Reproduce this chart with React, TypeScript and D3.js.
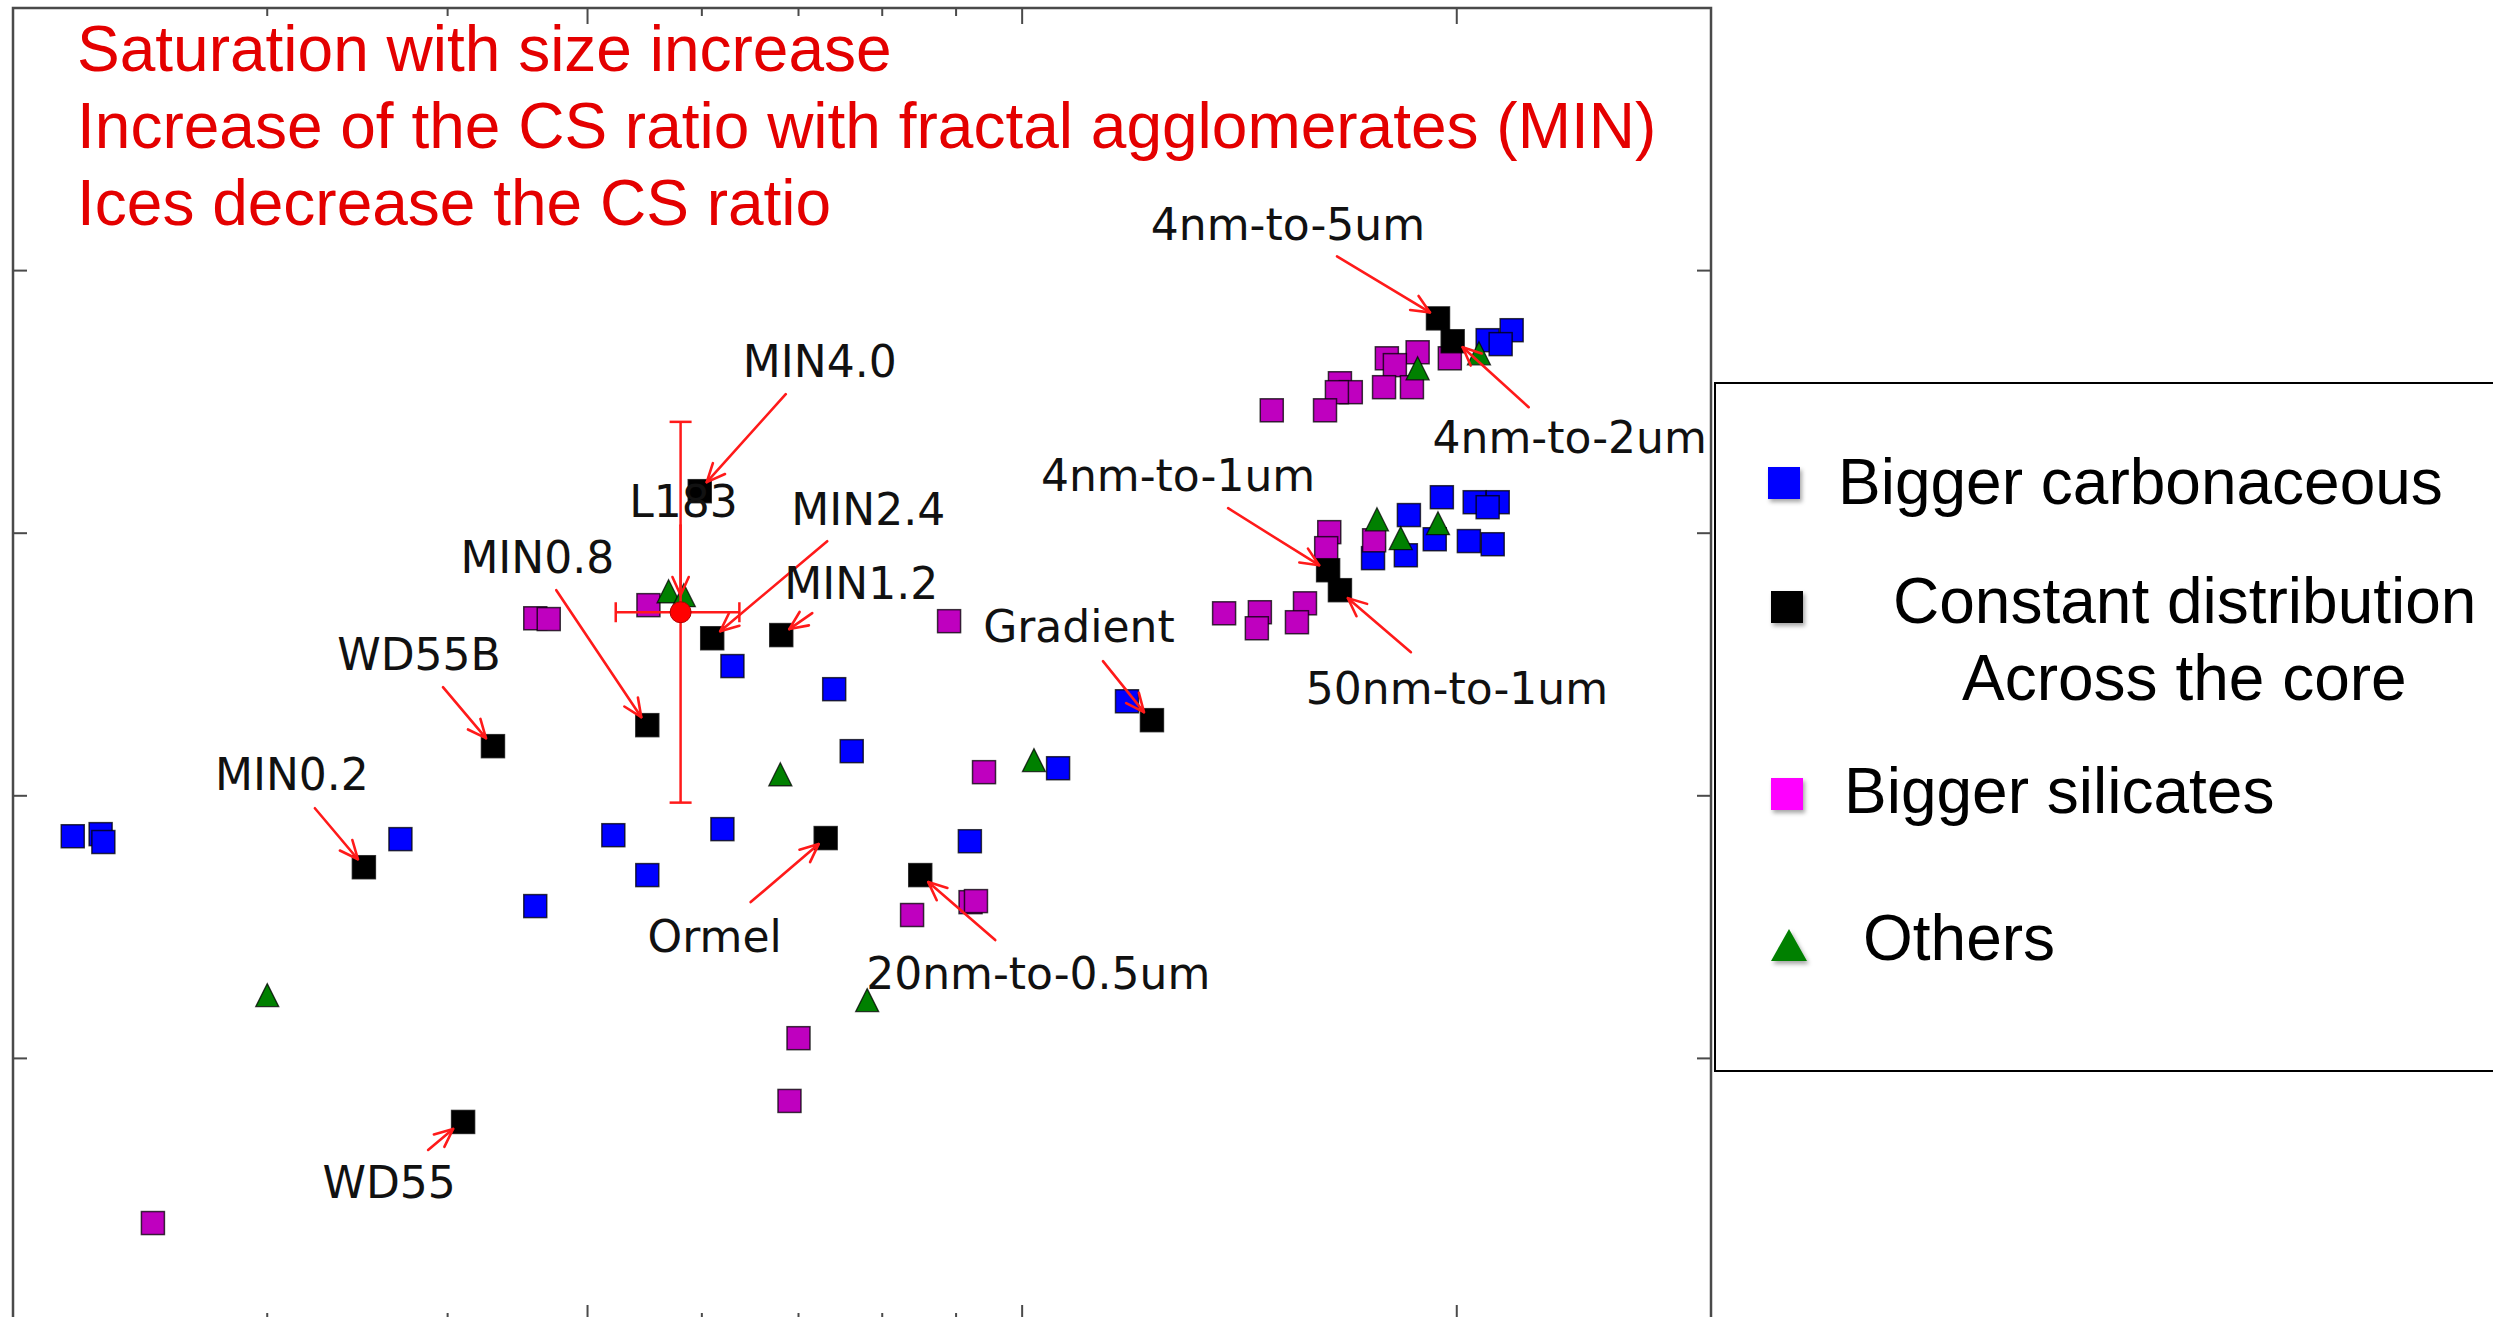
import React from "react";
import * as d3 from "d3";

const W = 2493;
const H = 1317;

// ---------- data (x: log axis, y: linear axis; arbitrary units) ----------
const carbonX = [0.220, 0.230, 0.231, 0.371, 0.460, 0.521, 0.550, 0.630, 0.741, 0.762, 0.620, 0.920, 1.059, 1.182,
  2.101, 2.183, 2.145, 1.953, 2.058, 2.135, 2.101, 1.853, 1.931, 2.039, 2.118, 1.844, 1.750];
const carbonY = [1.846, 1.854, 1.824, 1.835, 1.580, 1.850, 1.698, 2.494, 2.406, 2.170, 1.873, 1.827, 2.105, 2.360,
  3.735, 3.773, 3.720, 3.137, 3.118, 3.118, 3.099, 3.069, 2.977, 2.970, 2.958, 2.916, 2.905];

const silX = [0.250, 0.460, 0.470, 0.551, 0.890, 0.941, 0.921, 0.929, 0.839, 0.700, 0.690,
  1.978, 1.879, 1.789, 1.812, 1.781, 1.862, 1.660, 1.689, 1.652, 1.621, 1.489,
  1.632, 1.753, 1.624, 1.570, 1.380, 1.461, 1.454, 1.550];
const silY = [0.373, 2.676, 2.673, 2.726, 2.665, 2.090, 1.595, 1.599, 1.546, 1.077, 0.838,
  3.666, 3.689, 3.666, 3.640, 3.556, 3.556, 3.571, 3.537, 3.537, 3.468, 3.468,
  3.004, 2.973, 2.943, 2.733, 2.695, 2.699, 2.638, 2.661];

const constNames = ["MIN0.2", "WD55", "WD55B", "MIN0.8", "MIN4.0", "MIN2.4", "MIN1.2", "Ormel",
  "20nm-to-0.5um", "Gradient", "4nm-to-5um", "4nm-to-2um", "4nm-to-1um", "50nm-to-1um"];
const constX = [0.350, 0.410, 0.430, 0.550, 0.598, 0.610, 0.681, 0.731, 0.850, 1.230, 1.941, 1.987, 1.629, 1.660];
const constY = [1.728, 0.758, 2.189, 2.269, 3.160, 2.600, 2.612, 1.839, 1.698, 2.288, 3.818, 3.731, 2.859, 2.783];

const otherX = [0.300, 0.569, 0.583, 0.680, 0.781, 1.019, 2.072, 1.879, 1.761, 1.941, 1.829];
const otherY = [1.241, 2.779, 2.764, 2.082, 1.222, 2.136, 3.685, 3.628, 3.053, 3.038, 2.981];

const l183X = [0.580];
const l183Y = [2.699];
const l183XErr = [0.057];
const l183YErr = [0.725];

const xMajorTicks = [0.5, 1, 2];
const xMinorTicks = [0.3, 0.4, 0.6, 0.7, 0.8, 0.9];
const yTicks = [1, 2, 3, 4];

const notes = [
  "Saturation with size increase",
  "Increase of the CS ratio with fractal agglomerates (MIN)",
  "Ices decrease the CS ratio",
];

const legendLabels = ["Bigger carbonaceous", "Constant distribution", "Across the core", "Bigger silicates", "Others"];

// annotation layout (offset pixels from the annotated point): text anchor, arrow start, arrow end
const annLayout: Record<string, number[]> = {
  "MIN0.2": [-72, -77, -49, -59, -6, -8],
  "WD55": [-74, 76, -35, 28, -10, 7],
  "WD55B": [-74, -76, -50, -59, -7, -8],
  "MIN0.8": [-110, -152, -91, -135, -6, -8],
  "MIN4.0": [120, -114, 86, -97, 7, -9],
  "MIN2.4": [156, -113, 115, -97, 8, -7],
  "MIN1.2": [80, -36, 31, -22, 8, -6],
  "Ormel": [-111, 114, -75, 64, -7, 6],
  "20nm-to-0.5um": [118, 114, 75, 65, 8, 7],
  "Gradient": [-73, -78, -49, -59, -8, -8],
  "4nm-to-5um": [-150, -78, -101, -62, -8, -6],
  "4nm-to-2um": [117, 112, 76, 66, 10, 6],
  "4nm-to-1um": [-150, -79, -100, -62, -9, -5],
  "50nm-to-1um": [117, 114, 71, 62, 8, 8],
};

const PL = 13, PR = 1711, PT = 8, PB = 1321;

function Arrow({ x1, y1, x2, y2 }: { x1: number; y1: number; x2: number; y2: number }) {
  const a = Math.atan2(y2 - y1, x2 - x1);
  const L = 20, phi = 0.42;
  const h1x = x2 - L * Math.cos(a - phi), h1y = y2 - L * Math.sin(a - phi);
  const h2x = x2 - L * Math.cos(a + phi), h2y = y2 - L * Math.sin(a + phi);
  return (
    <g stroke="#ff1a1a" strokeWidth={2.6} fill="none" strokeLinecap="round" strokeLinejoin="round">
      <line x1={x1} y1={y1} x2={x2} y2={y2} />
      <polyline points={`${h1x},${h1y} ${x2},${y2} ${h2x},${h2y}`} />
    </g>
  );
}

export default function App() {
  const x = d3.scaleLog().domain([0.2, 3]).range([PL, PR]);
  const y = d3.scaleLinear().domain([0, 5]).range([PB, PT]);
  const S = 23;
  const sq = (cx: number, cy: number, fill: string, key: string) => (
    <rect key={key} x={cx - S / 2} y={cy - S / 2} width={S} height={S} fill={fill}
      stroke="#000" strokeOpacity={0.75} strokeWidth={1.5} />
  );
  const tri = (cx: number, cy: number, key: string) => {
    const h = S / 2;
    return (
      <path key={key} d={`M${cx},${cy - h} L${cx + h},${cy + h} L${cx - h},${cy + h} Z`}
        fill="#008000" stroke="#000" strokeOpacity={0.75} strokeWidth={1.3} />
    );
  };

  const rcx = x(l183X[0]);
  const rcy = y(l183Y[0]);
  const exL = x(l183X[0] - l183XErr[0]);
  const exR = x(l183X[0] + l183XErr[0]);
  const eyT = y(l183Y[0] + l183YErr[0]);
  const eyB = y(l183Y[0] - l183YErr[0]);

  const labelFont = "'DejaVu Sans', sans-serif";
  const sansFont = "'Liberation Sans', Arial, Helvetica, sans-serif";

  return (
    <svg width={W} height={H} viewBox={`0 0 ${W} ${H}`}
      style={{ position: "absolute", left: 0, top: 0, background: "#fff" }}>
      <defs>
        <filter id="sh" x="-30%" y="-30%" width="160%" height="160%">
          <feDropShadow dx="2" dy="3" stdDeviation="2" floodColor="#000" floodOpacity="0.35" />
        </filter>
      </defs>
      <rect x={0} y={0} width={W} height={H} fill="#fff" />

      {/* frame & ticks */}
      <g stroke="#4a4a4a" strokeWidth={2}>
        {xMajorTicks.map((t) => (
          <g key={"xM" + t}>
            <line x1={x(t)} x2={x(t)} y1={PT} y2={PT + 16} />
            <line x1={x(t)} x2={x(t)} y1={PB} y2={PB - 16} />
          </g>
        ))}
        {xMinorTicks.map((t) => (
          <g key={"xm" + t}>
            <line x1={x(t)} x2={x(t)} y1={PT} y2={PT + 8} />
            <line x1={x(t)} x2={x(t)} y1={PB} y2={PB - 8} />
          </g>
        ))}
        {yTicks.map((t) => (
          <g key={"y" + t}>
            <line x1={PL} x2={PL + 14} y1={y(t)} y2={y(t)} />
            <line x1={PR} x2={PR - 14} y1={y(t)} y2={y(t)} />
          </g>
        ))}
        <rect x={PL} y={PT} width={PR - PL} height={PB - PT} fill="none" strokeWidth={2.5} />
      </g>

      {/* markers */}
      {carbonX.map((v, i) => sq(x(v), y(carbonY[i]), "#0000ff", "c" + i))}
      {silX.map((v, i) => sq(x(v), y(silY[i]), "#bf00bf", "s" + i))}
      {constX.map((v, i) => sq(x(v), y(constY[i]), "#000000", "k" + i))}
      {otherX.map((v, i) => tri(x(v), y(otherY[i]), "o" + i))}

      {/* L183 error bars */}
      <g stroke="#ff1a1a" strokeWidth={2.5}>
        <line x1={exL} x2={exR} y1={rcy} y2={rcy} />
        <line x1={rcx} x2={rcx} y1={eyT} y2={eyB} />
        <line x1={exL} x2={exL} y1={rcy - 10} y2={rcy + 10} />
        <line x1={exR} x2={exR} y1={rcy - 10} y2={rcy + 10} />
        <line x1={rcx - 11} x2={rcx + 11} y1={eyT} y2={eyT} />
        <line x1={rcx - 11} x2={rcx + 11} y1={eyB} y2={eyB} />
      </g>
      <circle cx={rcx} cy={rcy} r={10.5} fill="#ff0000" stroke="#b00000" strokeWidth={1} />

      {/* annotations */}
      {constNames.map((name, i) => {
        const p = annLayout[name];
        const cx = x(constX[i]);
        const cy = y(constY[i]);
        return (
          <g key={"a" + name}>
            <Arrow x1={cx + p[2]} y1={cy + p[3]} x2={cx + p[4]} y2={cy + p[5]} />
            <text x={cx + p[0]} y={cy + p[1]} textAnchor="middle" fontFamily={labelFont}
              fontSize={44} fill="#111">{name}</text>
          </g>
        );
      })}
      <Arrow x1={rcx} y1={rcy - 87} x2={rcx} y2={rcy - 17} />
      <text x={rcx + 3} y={rcy - 95} textAnchor="middle" fontFamily={labelFont} fontSize={44} fill="#111">L183</text>

      {/* red notes */}
      {notes.map((t, i) => (
        <text key={"n" + i} x={77} y={71 + i * 77} fontFamily={sansFont} fontSize={64} fill="#e40000">{t}</text>
      ))}

      {/* legend */}
      <rect x={1715} y={383} width={900} height={688} fill="#fff" stroke="#000" strokeWidth={2} />
      <g filter="url(#sh)">
        <rect x={1768} y={467} width={32} height={32} fill="#0000ff" />
        <rect x={1771} y={591} width={32} height={32} fill="#000000" />
        <rect x={1771} y={778} width={32} height={32} fill="#ff00ff" />
        <path d="M1789,929 L1807,961 L1771,961 Z" fill="#008000" />
      </g>
      <g fontFamily={sansFont} fontSize={64} fill="#000">
        <text x={1838} y={504}>{legendLabels[0]}</text>
        <text x={1893} y={623}>{legendLabels[1]}</text>
        <text x={1962} y={700}>{legendLabels[2]}</text>
        <text x={1844} y={813}>{legendLabels[3]}</text>
        <text x={1863} y={960}>{legendLabels[4]}</text>
      </g>
    </svg>
  );
}
